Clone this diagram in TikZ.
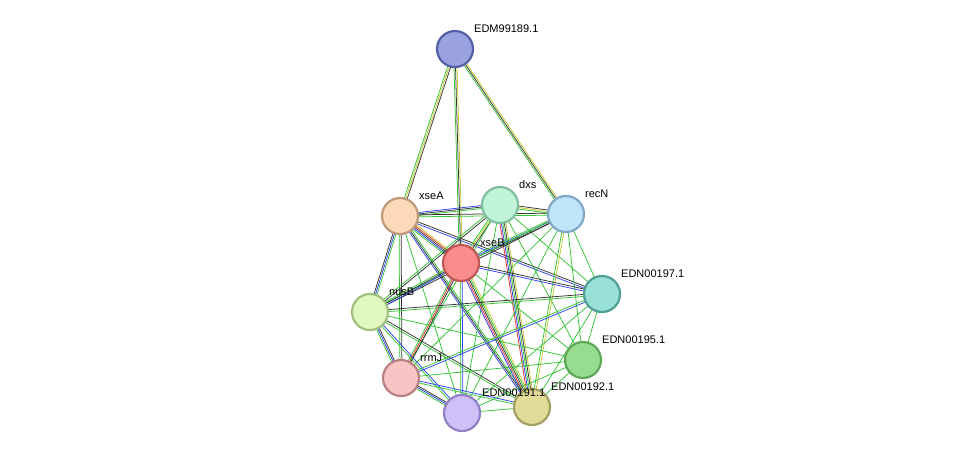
\documentclass[tikz,border=0pt]{standalone}
\usepackage{fontspec}
\setmainfont{Liberation Sans}
\usetikzlibrary{calc}

\definecolor{eg}{HTML}{33C433}
\definecolor{ek}{HTML}{333333}
\definecolor{eb}{HTML}{3040F0}
\definecolor{ey}{HTML}{C8C830}
\definecolor{er}{HTML}{E83030}

\tikzset{
  prot/.style={circle, draw, line width=2.2pt, minimum size=36pt, inner sep=0pt},
  lbl/.style={font=\fontsize{11pt}{11pt}\selectfont, inner sep=1pt},
}

% link between two nodes: list of colour/offset pairs
\newcommand{\lnk}[3]{%
  \foreach \c/\o in {#3}
    \draw[\c, line width=0.75pt] ($(#1)!\o pt!90:(#2)$) -- ($(#2)!\o pt!-90:(#1)$);}

\begin{document}
\begin{tikzpicture}[x=1pt, y=-1pt]
  \useasboundingbox (0,0) rectangle (976,459);

  \coordinate (edm) at (455,49);
  \coordinate (xseA) at (400,216);
  \coordinate (dxs) at (500,205);
  \coordinate (recN) at (566,214);
  \coordinate (xseB) at (461,263);
  \coordinate (e197) at (602,294);
  \coordinate (nusB) at (370,312);
  \coordinate (e195) at (583,360);
  \coordinate (rrmJ) at (401,378);
  \coordinate (e191) at (462,413);
  \coordinate (e192) at (532,407);

  % links
  \lnk{edm}{xseA}{eg/-1.5, ey/0, ek/1.5}
  \lnk{edm}{xseB}{eg/-1.5, ek/0, ey/1.5}
  \lnk{edm}{recN}{eg/-1.5, ek/0, ey/1.5}
  \lnk{xseA}{dxs}{eg/-1.5, ek/0, eb/1.5}
  \lnk{xseA}{recN}{eg/-1, ek/1}
  \lnk{xseA}{xseB}{eg/-3, eb/-1.5, ek/0, er/1.5, ey/3}
  \lnk{xseA}{nusB}{ek/-1.5, eb/0, eg/1.5}
  \lnk{xseA}{rrmJ}{eg/-1, ek/1}
  \lnk{xseA}{e191}{eg/0}
  \lnk{xseA}{e192}{eb/-1.5, ek/0, eg/1.5}
  \lnk{xseA}{e197}{eb/-1, ek/1}
  \lnk{dxs}{recN}{eg/-1.5, ey/0, ek/1.5}
  \lnk{dxs}{xseB}{eg/-1.5, ey/0, ek/1.5}
  \lnk{dxs}{nusB}{eg/-1, ek/1}
  \lnk{dxs}{rrmJ}{eg/0}
  \lnk{dxs}{e191}{eg/0}
  \lnk{dxs}{e192}{er/-3, eb/-1.5, eg/0, ek/1.5, ey/3}
  \lnk{dxs}{e195}{eg/0}
  \lnk{dxs}{e197}{eg/0}
  \lnk{recN}{xseB}{eg/-1.5, eb/0, ek/1.5}
  \lnk{recN}{nusB}{eg/-1, ek/1}
  \lnk{recN}{rrmJ}{eg/0}
  \lnk{recN}{e191}{eg/0}
  \lnk{recN}{e192}{eg/-1, ey/1}
  \lnk{recN}{e195}{eg/0}
  \lnk{recN}{e197}{eg/0}
  \lnk{xseB}{nusB}{eg/-1.5, ek/0, eb/1.5}
  \lnk{xseB}{rrmJ}{eg/-1.5, er/0, ek/1.5}
  \lnk{xseB}{e191}{eg/-1, eb/1}
  \lnk{xseB}{e192}{eb/-3, er/-1.5, ek/0, eg/1.5, ey/3}
  \lnk{xseB}{e197}{eb/-1, ek/1}
  \lnk{xseB}{e195}{eg/0}
  \lnk{nusB}{rrmJ}{eg/-1.5, eb/0, ek/1.5}
  \lnk{nusB}{e191}{eg/-1, eb/1}
  \lnk{nusB}{e192}{eg/-1, ek/1}
  \lnk{nusB}{e197}{eg/-1, ek/1}
  \lnk{nusB}{e195}{eg/0}
  \lnk{rrmJ}{e191}{eg/-1.5, eb/0, ek/1.5}
  \lnk{rrmJ}{e192}{eg/-1, eb/1}
  \lnk{rrmJ}{e197}{eb/-1, eg/1}
  \lnk{rrmJ}{e195}{eg/0}
  \lnk{e191}{e192}{eg/0}
  \lnk{e191}{e195}{eg/0}
  \lnk{e191}{e197}{eg/0}
  \lnk{e192}{e195}{eg/0}
  \lnk{e192}{e197}{eg/0}
  \lnk{e195}{e197}{eg/0}

  % proteins
  \node[prot, fill={rgb,255:red,154;green,163;blue,224}, draw={rgb,255:red,85;green,96;blue,168}] (nedm) at (edm) {};
  \node[prot, fill={rgb,255:red,252;green,217;blue,184}, draw={rgb,255:red,192;green,154;blue,120}] (nxseA) at (xseA) {};
  \node[prot, fill={rgb,255:red,192;green,245;blue,216}, draw={rgb,255:red,128;green,192;blue,160}] (ndxs) at (dxs) {};
  \node[prot, fill={rgb,255:red,192;green,228;blue,248}, draw={rgb,255:red,128;green,168;blue,200}] (nrecN) at (recN) {};
  \node[prot, fill={rgb,255:red,250;green,140;blue,140}, draw={rgb,255:red,192;green,88;blue,88}] (nxseB) at (xseB) {};
  \node[prot, fill={rgb,255:red,152;green,224;blue,216}, draw={rgb,255:red,80;green,160;blue,152}] (n197) at (e197) {};
  \node[prot, fill={rgb,255:red,224;green,248;blue,192}, draw={rgb,255:red,160;green,192;blue,128}] (nnusB) at (nusB) {};
  \node[prot, fill={rgb,255:red,152;green,220;blue,144}, draw={rgb,255:red,96;green,168;blue,88}] (n195) at (e195) {};
  \node[prot, fill={rgb,255:red,248;green,196;blue,196}, draw={rgb,255:red,184;green,128;blue,128}] (nrrmJ) at (rrmJ) {};
  \node[prot, fill={rgb,255:red,224;green,220;blue,152}, draw={rgb,255:red,160;green,160;blue,96}] (n192) at (e192) {};
  \node[prot, fill={rgb,255:red,208;green,192;blue,248}, draw={rgb,255:red,144;green,128;blue,200}] (n191) at (e191) {};

  % labels
  \node[lbl, anchor=base west] at (473,32) {EDM99189.1};
  \node[lbl, anchor=base west] at (418,199) {xseA};
  \node[lbl, anchor=base west] at (518,188) {dxs};
  \node[lbl, anchor=base west] at (584,197) {recN};
  \node[lbl, anchor=base west] at (479,246) {xseB};
  \node[lbl, anchor=base west] at (620,277) {EDN00197.1};
  \node[lbl, anchor=base west] at (388,295) {nusB};
  \node[lbl, anchor=base west] at (601,343) {EDN00195.1};
  \node[lbl, anchor=base west] at (419,361) {rrmJ};
  \node[lbl, anchor=base west] at (550,390) {EDN00192.1};
  \node[lbl, anchor=base west] at (481,396) {EDN00191.1};
\end{tikzpicture}
\end{document}
